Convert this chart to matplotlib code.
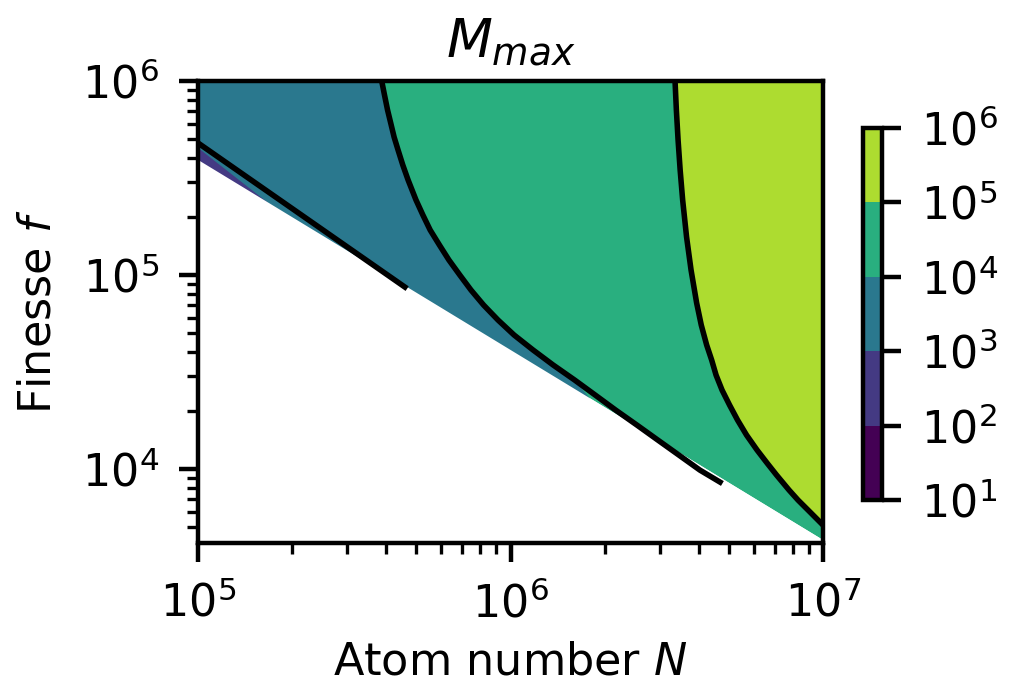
import numpy as np
import matplotlib.pyplot as plt
from matplotlib.colors import LogNorm, ListedColormap
from matplotlib.cm import ScalarMappable

plt.rcParams['font.size'] = 8

# axis ranges
N_lim = [1e5, 1e7]
f_lim = [4.16e3, 1e6]

# lower edge of the region where M_max exists (white below)
edge_N = [1e5, 1e7]
edge_f = [3.92e5, 4.31e3]

# contour lines
c3_N = [1e5, 4.59e5]
c3_f = [4.79e5, 8.67e4]

c4_N = [3.870e5, 3.95e5, 4.04e5, 4.15e5, 4.24e5, 4.365e5, 4.52e5, 4.70e5, 4.98e5,
        5.24e5, 5.53e5, 5.92e5, 6.35e5, 6.88e5, 7.47e5, 8.20e5, 9.12e5, 1.026e6,
        1.180e6, 1.368e6, 1.602e6, 1.864e6, 2.173e6, 2.537e6, 2.96e6, 3.456e6,
        4.035e6, 4.68e6]
c4_f = [1e6, 8.47e5, 7.09e5, 5.93e5, 5.14e5, 4.41e5, 3.69e5, 3.09e5, 2.44e5,
        2.04e5, 1.706e5, 1.428e5, 1.195e5, 1e5, 8.37e4, 7.00e4, 5.86e4, 4.91e4,
        4.11e4, 3.44e4, 2.88e4, 2.41e4, 2.01e4, 1.686e4, 1.411e4, 1.181e4,
        9.88e3, 8.57e3]

c5_N = [3.36e6, 3.393e6, 3.436e6, 3.489e6, 3.554e6, 3.658e6, 3.781e6, 3.940e6,
        4.076e6, 4.242e6, 4.401e6, 4.546e6, 4.751e6, 5.021e6, 5.326e6, 5.691e6,
        6.150e6, 6.620e6, 7.101e6, 7.784e6, 8.318e6, 9.088e6, 1e7]
c5_f = [1e6, 7.09e5, 4.965e5, 3.477e5, 2.436e5, 1.570e5, 1.061e5, 7.174e4,
        5.525e4, 4.357e4, 3.647e4, 3.051e4, 2.554e4, 2.138e4, 1.789e4, 1.497e4,
        1.253e4, 1.074e4, 9.31e3, 7.795e3, 6.92e3, 6.003e3, 5.143e3]

# where the filled 1e3-1e4 band leaves the 1e4 line and meets the lower edge
blue_split = 21
blue_end_N = 1.93e6
blue_end_f = 2.01e4

# thin 1e2-1e3 sliver at the left edge
purple_N = [1e5, 2.12e5, 1e5]
purple_f = [4.52e5, 1.75e5, 3.27e5]

levels = [1e1, 1e2, 1e3, 1e4, 1e5, 1e6]
band_pos = [0.0, 0.17, 0.40, 0.63, 0.875]   # position of each band in viridis
band_colors = [plt.cm.viridis(p) for p in band_pos]

fig = plt.figure(figsize=(1012 / 400, 685 / 400), dpi=400)
ax = fig.add_axes([0.1957, 0.2073, 0.6176, 0.6745])
cax = fig.add_axes([0.8528, 0.2701, 0.0188, 0.5431])

ax.set_xscale('log')
ax.set_yscale('log')

# 1e4-1e5 band covers everything above the lower edge
ax.fill([N_lim[0], N_lim[1]] + edge_N[::-1], [f_lim[1], f_lim[1]] + edge_f[::-1],
        color=band_colors[3], lw=0, zorder=1)
# 1e3-1e4 band
ax.fill([N_lim[0]] + c4_N[:blue_split] + [blue_end_N, N_lim[0]],
        [f_lim[1]] + c4_f[:blue_split] + [blue_end_f, f_lim[0]],
        color=band_colors[2], lw=0, zorder=1)
# 1e5-1e6 band
ax.fill(c5_N + [N_lim[1]], c5_f + [f_lim[1]], color=band_colors[4], lw=0, zorder=1)
# 1e2-1e3 sliver
ax.fill(purple_N, purple_f, color=band_colors[1], lw=0, zorder=1)
# no solution below the edge
ax.fill(edge_N + [N_lim[1], N_lim[0]], edge_f + [f_lim[0], f_lim[0]],
        color='white', lw=0, zorder=1.5)

for cN, cf in [(c3_N, c3_f), (c4_N, c4_f), (c5_N, c5_f)]:
    ax.plot(cN, cf, color='black', lw=1.0, zorder=2)

ax.set_xlim(N_lim)
ax.set_ylim(f_lim)
ax.set_xlabel('Atom number $N$', labelpad=2.5)
ax.set_ylabel('Finesse $f$')
ax.set_title('$M_{max}$', pad=4.4)

sm = ScalarMappable(norm=LogNorm(levels[0], levels[-1]), cmap=ListedColormap(band_colors))
cb = fig.colorbar(sm, cax=cax)
cb.set_ticks(levels)
cb.ax.minorticks_off()

fig.savefig('out.png', dpi=400)
